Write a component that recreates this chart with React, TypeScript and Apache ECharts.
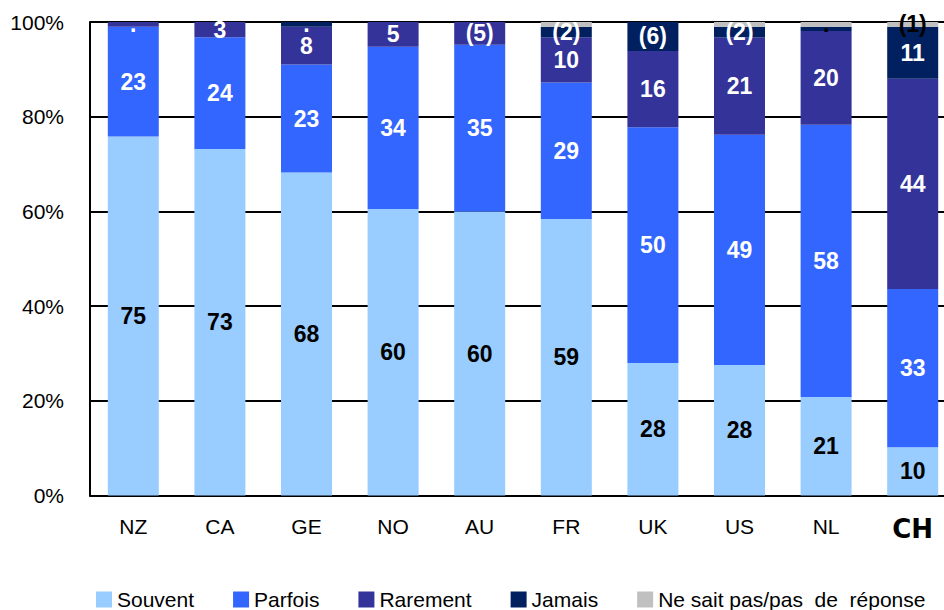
import React, { useEffect, useRef } from "react";
import * as echarts from "echarts";

const categories = ["NZ", "CA", "GE", "NO", "AU", "FR", "UK", "US", "NL", "CH"];
const seriesNames = ["Souvent", "Parfois", "Rarement", "Jamais", "Ne sait pas/pas de réponse"];

const souvent = [75.8, 73.2, 68.2, 60.5, 60.0, 58.4, 28.0, 27.6, 20.8, 10.2];
const parfois = [23.2, 23.6, 22.8, 34.3, 35.2, 28.8, 49.8, 48.6, 57.5, 33.4];
const rarement = [1.0, 3.2, 8.0, 5.2, 4.8, 9.6, 16.1, 20.6, 19.8, 44.4];
const jamais = [0, 0, 1.0, 0, 0, 2.2, 6.1, 2.2, 0.9, 11.0];
const nsp = [0, 0, 0, 0, 0, 1.0, 0, 1.0, 1.0, 1.0];

const souventLabels = ["75", "73", "68", "60", "60", "59", "28", "28", "21", "10"];
const parfoisLabels = ["23", "24", "23", "34", "35", "29", "50", "49", "58", "33"];
const rarementLabels = [".", "3", "8", "5", "(5)", "10", "16", "21", "20", "44"];
const jamaisLabels = ["", "", ".", "", "", "(2)", "(6)", "(2)", "", "11"];
const nspLabels = ["", "", "", "", "", "", "", "", ".", "(1)"];

const yTicks = [0, 20, 40, 60, 80, 100];

const colors = ["#99CCFF", "#3366FF", "#333399", "#002060", "#C0C0C0"];
const labelColors = ["#000000", "#FFFFFF", "#FFFFFF", "#FFFFFF", "#000000"];

const LABEL_FONT = "'Liberation Sans', Arial, sans-serif";
const TEXT_FONT = "'Liberation Sans', Arial, sans-serif";

export default function App() {
  const ref = useRef<HTMLDivElement>(null);

  useEffect(() => {
    if (!ref.current) return;
    const chart = echarts.init(ref.current, undefined, { renderer: "svg" });
    const values = [souvent, parfois, rarement, jamais, nsp];
    const labels = [souventLabels, parfoisLabels, rarementLabels, jamaisLabels, nspLabels];

    const series = seriesNames.map((name, i) => ({
      name,
      type: "bar",
      stack: "total",
      barWidth: 51,
      data: values[i],
      itemStyle: { color: colors[i] },
      label: {
        show: true,
        position: "inside",
        formatter: (p: any) => labels[i][p.dataIndex],
        color: labelColors[i],
        fontFamily: LABEL_FONT,
        fontWeight: "bold",
        fontSize: 23,
        textBorderWidth: 0,
      },
      emphasis: { disabled: true },
    }));

    chart.setOption({
      animation: false,
      grid: {
        left: 90,
        top: 22,
        width: 866,
        height: 473.6,
        containLabel: false,
        outerBoundsMode: "none",
      },
      legend: {
        data: seriesNames,
        left: 96,
        top: 589,
        padding: 0,
        itemWidth: 16,
        itemHeight: 16,
        itemGap: 39,
        icon: "rect",
        formatter: (n: string) => (n.startsWith("Ne sait") ? "Ne sait pas/pas  de  réponse" : n),
        textStyle: { fontFamily: TEXT_FONT, fontSize: 21, color: "#000" },
        selectedMode: false,
      },
      xAxis: {
        type: "category",
        data: categories,
        axisLine: { show: true, lineStyle: { color: "#000", width: 2 } },
        axisTick: { show: false },
        axisLabel: {
          margin: 20,
          fontFamily: TEXT_FONT,
          fontSize: 21,
          color: "#000",
          formatter: (v: string) => (v === "CH" ? "{b|CH}" : v),
          rich: {
            b: {
              fontFamily: "'DejaVu Sans', sans-serif",
              fontWeight: "bold",
              fontSize: 26,
              color: "#000",
            },
          },
        },
      },
      yAxis: {
        type: "value",
        min: 0,
        max: 100,
        interval: 20,
        axisLine: { show: true, lineStyle: { color: "#000", width: 2 } },
        axisTick: { show: false },
        splitLine: { show: true, lineStyle: { color: "#000", width: 2 } },
        axisLabel: {
          margin: 26,
          fontFamily: TEXT_FONT,
          fontSize: 21,
          color: "#000",
          formatter: (v: number) => (yTicks.includes(v) ? v + "%" : ""),
        },
      },
      series,
    });

    return () => chart.dispose();
  }, []);

  return (
    <div
      ref={ref}
      style={{ position: "fixed", left: 0, top: 0, width: 944, height: 610, background: "#fff" }}
    />
  );
}
